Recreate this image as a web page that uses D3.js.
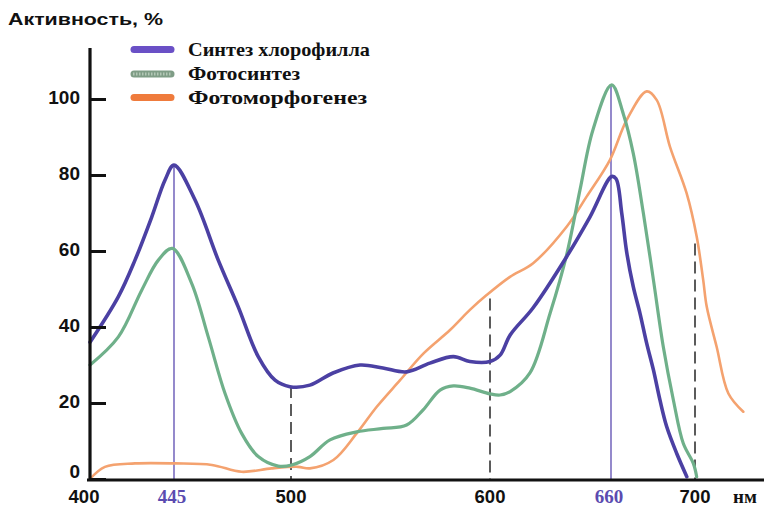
<!DOCTYPE html>
<html>
<head>
<meta charset="utf-8">
<script src="https://cdnjs.cloudflare.com/ajax/libs/d3/7.8.5/d3.min.js"></script>
<style>
  body { margin: 0; background: #fff; }
  svg { display: block; }
</style>
</head>
<body>
<div id="chart"></div>
<script>
// wavelength (nm) / activity (%)
var chlorophyll = [
  [400, 36], [415.2, 48], [424.1, 57.6], [433.1, 69], [440.2, 78.7], [445, 82.6],
  [454.9, 73.4], [465.8, 57.6], [475.2, 45.3], [484.6, 32.2], [492.5, 26], [499.5, 24.3],
  [509.5, 24.7], [521.1, 27.9], [534.7, 30], [546.2, 29.2], [558.1, 28.2], [569.8, 30.5],
  [581.6, 32.2], [589.9, 30.9], [600, 30.9], [605, 32.6], [610, 37.9], [621.3, 45],
  [638, 58.5], [649.6, 69], [660.3, 79.6], [662.4, 79], [665.1, 70], [667.5, 59.6],
  [670.6, 50.6], [673.8, 43.6], [677, 35.7], [680.2, 28.7], [683.3, 20.8], [686.5, 13.8],
  [691.3, 6.7], [696.1, 0.6]
];
var photosynthesis = [
  [400, 30], [415.2, 37.4], [427.7, 49.7], [436.6, 57.6], [444.1, 60.7], [453.3, 51.5],
  [461.1, 37.4], [469, 22.5], [476.8, 12], [484.6, 5.9], [494, 3.4], [500.4, 3.7],
  [509.5, 5.9], [519.6, 10.3], [533, 12.4], [546.3, 13.3], [558.1, 14.2], [566.4, 18.2],
  [574.9, 23.4], [581.6, 24.5], [589.9, 23.9], [600, 22.4], [605, 22.1], [610, 23],
  [619.8, 27.9], [629.8, 43.6], [638, 59], [644.6, 76], [651, 91.8], [660.3, 103.7],
  [665.9, 96], [670.6, 85.7], [675.4, 70], [680.2, 52.4], [684.9, 34.8], [689.7, 20.8],
  [694.4, 9.4], [699.2, 4.1], [700.8, 0.6]
];
var photomorphogenesis = [
  [400, 0], [408, 3.2], [424.1, 4.1], [445.5, 4.1], [462.8, 3.7], [476.8, 1.9],
  [490.9, 2.8], [503.5, 3.2], [509.5, 2.8], [521.3, 5], [533, 12], [543.1, 19],
  [554.8, 26], [566.5, 33], [579.9, 39.2], [589.9, 44.5], [598.3, 48.4], [609.9, 53.2],
  [621.4, 56.8], [638, 66.4], [647.9, 74.3], [659.5, 84], [667.5, 94.5], [677, 102],
  [681.8, 99.7], [688.1, 87.4], [696, 75.2], [700.8, 63.8], [703.9, 52.4], [705.6, 45.3],
  [710.3, 34.8], [715.9, 22.5], [723, 17.7]
];

var seriesNames = ['Синтез хлорофилла', 'Фотосинтез', 'Фотоморфогенез'];
var yTicks = [0, 20, 40, 60, 80, 100];
var xTicks = [400, 500, 600, 700];
var peakTicks = [445, 660];
// vertical guides: wavelength, height (%)
var peakLines = [[445, 82.6], [660, 103.7]];
var dashLines = [[500, 24.5], [600, 47.5], [700, 62]];

var width = 764, height = 508;

var svg = d3.select('#chart').append('svg')
  .attr('width', width)
  .attr('height', height);

// the hand drawn axis is not quite even, so the scale is piecewise
var x = d3.scaleLinear()
  .domain([400, 445, 500, 600, 660, 700])
  .range([90, 174, 291, 490, 611, 695]);
var y = d3.scaleLinear().domain([0, 100]).range([479, 99]);

var colors = ['#4b40a3', '#6fb08a', '#f4a26f'];
var legendColors = ['#6a50c6', '#7f9d86', '#ef7b3c'];
var widths = [3.6, 3.2, 2.6];

// guides
svg.append('g').selectAll('line')
  .data(peakLines)
  .enter().append('line')
  .attr('x1', function(d) { return x(d[0]); })
  .attr('x2', function(d) { return x(d[0]); })
  .attr('y1', function(d) { return y(d[1]); })
  .attr('y2', y(0))
  .attr('stroke', '#5b4bb0')
  .attr('stroke-width', 1.3);

svg.append('g').selectAll('line')
  .data(dashLines)
  .enter().append('line')
  .attr('x1', function(d) { return x(d[0]); })
  .attr('x2', function(d) { return x(d[0]); })
  .attr('y1', function(d) { return y(d[1]); })
  .attr('y2', y(0))
  .attr('stroke', '#333')
  .attr('stroke-width', 1.6)
  .attr('stroke-dasharray', '12,6');

// curves
var line = d3.line()
  .x(function(d) { return x(d[0]); })
  .y(function(d) { return y(d[1]); })
  .curve(d3.curveCatmullRom.alpha(0.5));

[photomorphogenesis, photosynthesis, chlorophyll].forEach(function(data, i) {
  var k = 2 - i;
  svg.append('path')
    .attr('d', line(data))
    .attr('fill', 'none')
    .attr('stroke', colors[k])
    .attr('stroke-width', widths[k])
    .attr('stroke-linejoin', 'round')
    .attr('stroke-linecap', 'round');
});

// axes
var yAxis = svg.append('g').attr('transform', 'translate(90,0)')
  .call(d3.axisRight(y).tickValues(yTicks).tickSize(16).tickFormat(''));
yAxis.select('.domain').remove();
yAxis.selectAll('.tick line').attr('stroke', '#111').attr('stroke-width', 3);

svg.append('line')
  .attr('x1', 90).attr('x2', 90)
  .attr('y1', 48).attr('y2', 481)
  .attr('stroke', '#111').attr('stroke-width', 3.2);
svg.append('line')
  .attr('x1', 87).attr('x2', width)
  .attr('y1', 480).attr('y2', 480)
  .attr('stroke', '#111').attr('stroke-width', 3.2);

svg.append('g').selectAll('text')
  .data(yTicks)
  .enter().append('text')
  .attr('x', 80)
  .attr('y', function(d) { return y(d) - (d === 0 ? 8 : 2); })
  .attr('dy', '0.36em')
  .attr('text-anchor', 'end')
  .attr('font-family', 'Liberation Sans, Arial, sans-serif')
  .attr('font-weight', 'bold')
  .attr('font-size', 19)
  .attr('fill', '#111')
  .text(function(d) { return d; });

svg.append('g').selectAll('text')
  .data(xTicks)
  .enter().append('text')
  .attr('x', function(d, i) { return x(d) - (i === 0 ? 6 : 0); })
  .attr('y', 503)
  .attr('text-anchor', 'middle')
  .attr('font-family', 'Liberation Sans, Arial, sans-serif')
  .attr('font-weight', 'bold')
  .attr('font-size', 18.5)
  .attr('fill', '#111')
  .text(function(d) { return d; });

svg.append('g').selectAll('text')
  .data(peakTicks)
  .enter().append('text')
  .attr('x', function(d) { return x(d) - 2; })
  .attr('y', 503)
  .attr('text-anchor', 'middle')
  .attr('font-family', 'Liberation Serif, Times New Roman, serif')
  .attr('font-weight', 'bold')
  .attr('font-size', 19)
  .attr('fill', '#5b4bb0')
  .text(function(d) { return d; });

svg.append('text')
  .attr('x', 733).attr('y', 503)
  .attr('font-family', 'Liberation Serif, Times New Roman, serif')
  .attr('font-weight', 'bold')
  .attr('font-size', 19)
  .attr('fill', '#111')
  .text('нм');

// title
svg.append('text')
  .attr('x', 8).attr('y', 25)
  .attr('font-family', 'Liberation Sans, Arial, sans-serif')
  .attr('font-weight', 'bold')
  .attr('font-size', 17)
  .attr('textLength', 155)
  .attr('lengthAdjust', 'spacingAndGlyphs')
  .attr('fill', '#111')
  .text('Активность, %');

// legend
var legendY = [49.5, 74, 97.5];
var legendLen = [182, 112, 179];
var legend = svg.append('g').selectAll('g')
  .data(seriesNames)
  .enter().append('g')
  .attr('transform', function(d, i) { return 'translate(0,' + legendY[i] + ')'; });

legend.append('line')
  .attr('x1', 134).attr('x2', 171)
  .attr('stroke', function(d, i) { return legendColors[i]; })
  .attr('stroke-width', 7)
  .attr('stroke-linecap', 'round');

legend.filter(function(d, i) { return i === 1; })
  .append('line')
  .attr('x1', 133).attr('x2', 172)
  .attr('stroke', '#b3c8b6')
  .attr('stroke-width', 3)
  .attr('stroke-dasharray', '1.5,1.5');

legend.append('text')
  .attr('x', 188)
  .attr('y', 6)
  .attr('font-family', 'Liberation Serif, Times New Roman, serif')
  .attr('font-weight', 'bold')
  .attr('font-size', 19)
  .attr('textLength', function(d, i) { return legendLen[i]; })
  .attr('lengthAdjust', 'spacingAndGlyphs')
  .attr('fill', '#111')
  .text(function(d) { return d; });
</script>
</body>
</html>
